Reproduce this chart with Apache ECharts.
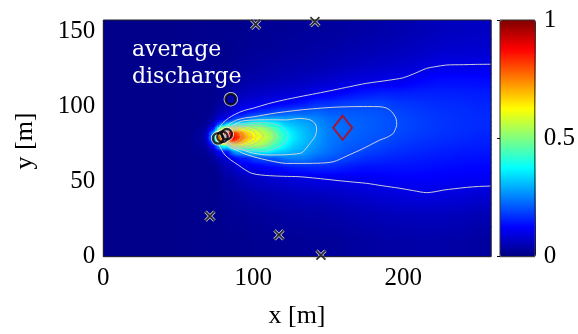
<!DOCTYPE html>
<html>
<head>
<meta charset="utf-8">
<script src="https://cdn.jsdelivr.net/npm/echarts@6/dist/echarts.min.js"></script>
<style>
  html, body { margin: 0; padding: 0; background: #ffffff; }
  #chart { width: 578px; height: 334px; }
</style>
</head>
<body>
<div id="chart"></div>
<script>
// Concentration field on a non-uniform grid (cell edges in metres)
const xEdges = [0, 25, 50, 65, 72, 76, 79, 82, 85, 88, 91, 94, 97, 100, 104, 108, 113, 118, 124, 130, 138, 146, 156, 168, 180, 192, 204, 218, 232, 246, 258.5];
const yEdges = [0, 20, 35, 47, 56, 63, 68, 72, 75, 78, 81, 84, 87, 90, 94, 99, 105, 113, 122, 133, 145, 157.8];

// One array per grid column (x), values listed from y = 0 upwards
const fieldColumns = [
  [.01,.01,.01,.01,.01,.01,.01,.01,.01,.01,.01,.01,.01,.01,.01,.01,.01,.01,.01,.01,.01],
  [.01,.01,.01,.01,.01,.01,.01,.01,.01,.01,.01,.01,.01,.01,.01,.01,.01,.01,.01,.01,.01],
  [.012,.012,.012,.012,.012,.012,.012,.012,.012,.012,.012,.012,.012,.012,.012,.012,.012,.012,.012,.012,.012],
  [.015,.015,.015,.015,.015,.015,.02,.03,.04,.045,.04,.03,.02,.015,.015,.015,.015,.015,.015,.015,.015],
  [.015,.015,.015,.015,.015,.03,.06,.12,.25,.35,.3,.15,.07,.04,.025,.015,.015,.015,.015,.015,.015],
  [.015,.015,.015,.015,.025,.05,.12,.3,.6,.75,.7,.45,.2,.09,.05,.03,.02,.015,.015,.015,.015],
  [.015,.015,.02,.03,.05,.08,.15,.4,.8,.97,.9,.6,.25,.1,.06,.035,.025,.02,.015,.015,.015],
  [.015,.02,.025,.035,.055,.085,.15,.35,.7,.92,.9,.65,.35,.12,.07,.04,.028,.02,.015,.015,.015],
  [.015,.02,.025,.035,.06,.11,.25,.52,.8,.88,.84,.6,.33,.17,.09,.055,.035,.025,.02,.015,.015],
  [.015,.02,.03,.045,.085,.14,.3,.55,.77,.84,.8,.62,.39,.2,.115,.075,.045,.03,.022,.018,.015],
  [.015,.02,.03,.05,.095,.15,.29,.53,.71,.77,.74,.59,.39,.2,.125,.085,.055,.035,.025,.018,.015],
  [.015,.022,.033,.055,.098,.155,.32,.53,.66,.71,.68,.58,.4,.22,.135,.09,.058,.038,.027,.02,.016],
  [.016,.024,.038,.06,.105,.17,.35,.52,.61,.67,.64,.555,.43,.255,.145,.095,.062,.041,.03,.022,.017],
  [.017,.025,.04,.065,.11,.19,.36,.52,.58,.63,.6,.54,.44,.27,.155,.098,.065,.043,.031,.023,.018],
  [.018,.026,.043,.07,.115,.2,.37,.51,.56,.59,.57,.53,.44,.29,.165,.105,.07,.046,.033,.024,.019],
  [.019,.028,.046,.075,.125,.205,.37,.47,.52,.55,.535,.49,.41,.29,.175,.11,.073,.049,.035,.025,.02],
  [.02,.03,.049,.08,.13,.215,.34,.42,.46,.49,.475,.44,.38,.29,.19,.115,.077,.052,.037,.027,.021],
  [.021,.032,.052,.083,.14,.24,.32,.37,.4,.41,.4,.37,.33,.28,.2,.125,.08,.055,.039,.029,.022],
  [.022,.034,.055,.088,.15,.25,.3,.325,.345,.355,.35,.335,.31,.285,.21,.135,.085,.058,.041,.03,.023],
  [.023,.035,.058,.093,.155,.25,.285,.3,.31,.315,.313,.305,.292,.27,.215,.145,.09,.062,.043,.032,.025],
  [.024,.037,.06,.098,.16,.225,.255,.268,.275,.28,.28,.276,.268,.255,.225,.168,.105,.068,.047,.035,.027],
  [.025,.039,.062,.099,.16,.21,.232,.24,.243,.245,.245,.244,.24,.233,.212,.17,.115,.075,.05,.037,.029],
  [.028,.045,.07,.102,.15,.19,.207,.215,.22,.225,.228,.228,.226,.222,.21,.185,.13,.085,.058,.042,.033],
  [.032,.05,.077,.108,.14,.17,.19,.202,.208,.212,.215,.218,.218,.216,.208,.19,.145,.092,.065,.047,.037],
  [.035,.055,.083,.113,.14,.162,.178,.188,.196,.201,.205,.207,.208,.207,.203,.19,.155,.1,.07,.052,.042],
  [.038,.058,.09,.118,.14,.155,.167,.175,.182,.188,.193,.196,.197,.195,.19,.178,.152,.105,.074,.056,.046],
  [.04,.06,.095,.12,.138,.15,.16,.167,.173,.178,.182,.185,.185,.184,.18,.172,.155,.125,.085,.064,.052],
  [.04,.06,.093,.118,.133,.145,.153,.16,.165,.17,.173,.175,.175,.175,.172,.166,.155,.135,.099,.073,.06],
  [.036,.057,.088,.115,.13,.14,.148,.154,.16,.164,.167,.17,.17,.17,.168,.163,.153,.135,.1,.076,.064],
  [.03,.052,.082,.112,.127,.137,.145,.15,.155,.158,.161,.164,.165,.165,.163,.158,.15,.133,.1,.077,.066]
];

// Iso-lines of the field
const contourOuter = [[258.5,128.3],[248,128.2],[240,128],[228.9,127.8],[221,126.6],[215.6,125.6],[210,123.2],[206.7,121.8],[200,119.3],[190,117.6],[175.6,115.6],[164,113.3],[153.5,111.1],[142,108.8],[131.1,106.7],[120,104.4],[110,102],[100,99],[94,97.5],[88,95],[83.3,92.2],[79.5,89],[77,85],[76,80],[77,75],[79,71],[81.1,67.8],[85,64.5],[90,61.1],[94,58.3],[98.9,55.6],[105,54.5],[111,54],[120,53.6],[131.1,53.3],[142,52.3],[153.3,51.1],[164,50],[175.6,48.9],[186,47.3],[197.8,45.6],[207,44],[215.6,42.7],[221,43.3],[226.7,44.4],[234,45.3],[242.2,46.2],[250,46.8],[258.5,47.1]];
const contour2 = [[84,88.5],[88.9,91.1],[95,92.6],[100,93.2],[106.7,94.4],[115,95.8],[122,96.7],[131.1,97.8],[142,98.8],[153.3,99.6],[165,100],[176,100.1],[184.4,100],[189,99],[192.2,96.7],[195.2,92],[195.6,88],[194.5,84.5],[193.3,82.2],[189,79.5],[184.4,77.8],[178,74.5],[171.1,71.1],[162,67],[153.3,63.3],[142,62.3],[131.1,62.2],[122.2,62.2],[111,64],[100,66.7],[93,69],[88.9,71.1],[84,73],[81,76],[80,80],[81,85],[84,88.5]];
const contour3 = [[85,87],[90,89.5],[93.3,90.6],[100,91.1],[110,91.3],[122,91.2],[131.1,92.2],[137,91.5],[140,90],[142,87],[142.2,84.4],[141,80],[137.8,75.6],[135,72],[133.3,70],[131.1,68.9],[122,68],[111,67.8],[100,69],[93.3,71.1],[87,73],[82,76],[81,80],[82,84],[85,87]];
const contour4 = [[84,86.5],[90,88.3],[100,89.3],[108,89.4],[115,88.3],[120,86],[123.3,81],[121,76],[115,72.3],[108,70.3],[100,70.5],[90,71.7],[84,73.5],[81,80],[84,86.5]];
const contour5 = [[84,86.3],[92,87.6],[100,87.8],[107,86.8],[112,84.5],[114.4,80.5],[112,76.5],[107,73.8],[100,72.5],[92,72.5],[84,74],[81.5,80],[84,86.3]];
const contour6 = [[84,86],[92,87],[99,86.3],[104,84],[106.7,80.5],[104,77],[99,74.5],[92,73.3],[84,74.3],[81.5,80],[84,86]];
const contour7 = [[84,85.5],[91,86.3],[97,85],[100.5,83],[102,80.3],[100.5,77.5],[97,75.5],[91,74.2],[84,74.8],[82,80],[84,85.5]];
const contour8 = [[84,85],[90,85.5],[95,84.3],[98,82.5],[99,80.3],[98,78],[95,76.2],[90,75],[84,75.3],[82,80],[84,85]];
const contour9 = [[84,84.5],[89,84.8],[93,83.5],[95,82],[95.6,80.3],[95,78.5],[93,77],[89,75.7],[84,75.8],[82.5,80],[84,84.5]];
const contour10 = [[84,84],[88,84],[90.5,82.8],[92,80.3],[90.5,77.8],[88,76.5],[84,76.3],[82.5,80],[84,84]];
const contours = [contourOuter, contour2, contour3, contour4, contour5, contour6, contour7, contour8, contour9, contour10];

// Point locations (m)
const sourceCircles = [[76.6, 78.9], [79.5, 80], [82.3, 81.6]];
const averageDischarge = [[85, 105]];
const crossPoints = [[101.6, 154.9], [141.1, 156.7], [71.1, 27.1], [117.1, 14.5], [145.1, 1.1]];
const diamondPoint = [[159.6, 86]];

// Axis ticks
const xTicks = [0, 100, 200];
const yTicks = [0, 50, 100, 150];
const colorTicks = [0, 0.5, 1];

const xMax = 258.5, yMax = 157.8;

// jet colour map: evenly spaced anchors over [0, 1]
const jet = ['#000080', '#0000ff', '#0080ff', '#00ffff', '#80ff80', '#ffff00', '#ff8000', '#ff0000', '#800000'];
const jetRGB = jet.map(function (h) {
  return [parseInt(h.slice(1, 3), 16), parseInt(h.slice(3, 5), 16), parseInt(h.slice(5, 7), 16)];
});
function jetColor(v) {
  v = Math.max(0, Math.min(1, v));
  const t = v * (jetRGB.length - 1);
  const k = Math.min(jetRGB.length - 2, Math.floor(t));
  const f = t - k;
  const a = jetRGB[k], b = jetRGB[k + 1];
  return 'rgb(' + Math.round(a[0] + (b[0] - a[0]) * f) + ',' +
    Math.round(a[1] + (b[1] - a[1]) * f) + ',' + Math.round(a[2] + (b[2] - a[2]) * f) + ')';
}

// cell centres, used for smooth (interpolated) shading of the cells
const xCenters = xEdges.slice(0, -1).map(function (e, j) { return (e + xEdges[j + 1]) / 2; });
const yCenters = yEdges.slice(0, -1).map(function (e, i) { return (e + yEdges[i + 1]) / 2; });
function bracket(centers, v) {
  if (v <= centers[0]) return [0, 0, 0];
  const n = centers.length;
  if (v >= centers[n - 1]) return [n - 1, n - 1, 0];
  let k = 0;
  while (centers[k + 1] < v) k++;
  return [k, k + 1, (v - centers[k]) / (centers[k + 1] - centers[k])];
}
function shadeValue(x, y) {
  const bx = bracket(xCenters, x), by = bracket(yCenters, y);
  const c0 = fieldColumns[bx[0]], c1 = fieldColumns[bx[1]];
  const lo = c0[by[0]] * (1 - bx[2]) + c1[by[0]] * bx[2];
  const hi = c0[by[1]] * (1 - bx[2]) + c1[by[1]] * bx[2];
  return lo * (1 - by[2]) + hi * by[2];
}

const cells = [];
for (let j = 0; j < fieldColumns.length; j++) {
  for (let i = 0; i < fieldColumns[j].length; i++) {
    cells.push([xEdges[j], xEdges[j + 1], yEdges[i], yEdges[i + 1], fieldColumns[j][i]]);
  }
}

const tickFont = { fontFamily: 'Liberation Serif', fontSize: 25, color: '#000' };

const series = [];
series.push({
  type: 'custom',
  xAxisIndex: 0, yAxisIndex: 0,
  data: cells,
  encode: { x: [0, 1], y: [2, 3] },
  clip: true,
  silent: true,
  z: 1,
  renderItem: function (params, api) {
    const x0 = api.value(0), x1 = api.value(1), y0 = api.value(2), y1 = api.value(3);
    const pBL = api.coord([x0, y0]);
    const pTR = api.coord([x1, y1]);
    const wPx = pTR[0] - pBL[0];
    const n = Math.max(1, Math.ceil(wPx / 2.5));
    const children = [];
    const steps = 6;
    for (let k = 0; k < n; k++) {
      const xs = x0 + (k + 0.5) / n * (x1 - x0);
      const stops = [];
      for (let s = 0; s <= steps; s++) {
        const ys = y1 - s / steps * (y1 - y0);
        stops.push({ offset: s / steps, color: jetColor(shadeValue(xs, ys)) });
      }
      const left = pBL[0] + k / n * wPx;
      children.push({
        type: 'rect',
        shape: { x: left - 0.5, y: pTR[1] - 0.5, width: wPx / n + 1, height: pBL[1] - pTR[1] + 1 },
        style: { fill: { type: 'linear', x: 0, y: 0, x2: 0, y2: 1, colorStops: stops } }
      });
    }
    return { type: 'group', children: children };
  }
});
contours.forEach(function (c, idx) {
  series.push({
    type: 'line', xAxisIndex: 0, yAxisIndex: 0, data: c,
    showSymbol: false, symbol: 'none', smooth: 0.3, silent: true, z: 3,
    lineStyle: { color: idx < 3 ? 'rgba(215,215,215,0.95)' : 'rgba(190,190,190,0.7)', width: 1 }
  });
});
// crosses: white halo then black stroke
const crossPath = 'path://M0,0L10,10M10,0L0,10';
series.push({
  type: 'scatter', data: crossPoints, symbol: crossPath, symbolSize: 9, clip: false, silent: true, z: 4,
  itemStyle: { color: 'transparent', borderColor: '#ffffff', borderWidth: 3.3 }
});
series.push({
  type: 'scatter', data: crossPoints, symbol: crossPath, symbolSize: 9, clip: false, silent: true, z: 4,
  itemStyle: { color: 'transparent', borderColor: '#000000', borderWidth: 1.8 }
});
[sourceCircles, averageDischarge].forEach(function (pts) {
  series.push({
    type: 'scatter', data: pts, symbol: 'circle', symbolSize: 12.5, clip: false, silent: true, z: 5,
    itemStyle: { color: 'transparent', borderColor: '#ffffff', borderWidth: 2 }
  });
  series.push({
    type: 'scatter', data: pts, symbol: 'circle', symbolSize: 10.5, clip: false, silent: true, z: 5,
    itemStyle: { color: 'transparent', borderColor: '#000000', borderWidth: 2.4 }
  });
});
series.push({
  type: 'scatter', data: diamondPoint, symbol: 'diamond', symbolSize: [19, 24], clip: false, silent: true, z: 5,
  itemStyle: { color: 'transparent', borderColor: '#cc0000', borderWidth: 2 }
});

const chart = echarts.init(document.getElementById('chart'), null, { renderer: 'canvas' });
chart.setOption({
  animation: false,
  backgroundColor: '#ffffff',
  grid: [
    { left: 103.3, top: 20, width: 387.7, height: 236.7, show: true, z: 10,
      backgroundColor: 'transparent', borderColor: '#222', borderWidth: 1 },
    { left: 500, top: 20, width: 36, height: 236.7, show: true, z: 10,
      backgroundColor: 'transparent', borderColor: '#333', borderWidth: 1 }
  ],
  xAxis: [
    { gridIndex: 0, type: 'value', min: 0, max: xMax, interval: 100,
      axisLine: { show: false }, axisTick: { show: false }, splitLine: { show: false },
      axisLabel: Object.assign({ margin: 9, showMaxLabel: false,
        formatter: function (v) { return xTicks.indexOf(v) >= 0 ? String(v) : ''; } }, tickFont) },
    { gridIndex: 1, type: 'value', min: 0, max: 1, show: false }
  ],
  yAxis: [
    { gridIndex: 0, type: 'value', min: 0, max: yMax, interval: 50,
      axisLine: { show: false }, axisTick: { show: false }, splitLine: { show: false },
      axisLabel: Object.assign({ margin: 8, showMaxLabel: false,
        formatter: function (v) { return yTicks.indexOf(v) >= 0 ? String(v) : ''; } }, tickFont) },
    { gridIndex: 1, type: 'value', min: 0, max: 1, interval: 0.5, position: 'right', z: 12,
      axisLine: { show: false }, splitLine: { show: false },
      axisTick: { show: true, inside: true, length: 3, lineStyle: { color: '#000' } },
      axisLabel: Object.assign({ margin: 9,
        formatter: function (v) { return colorTicks.indexOf(v) >= 0 ? String(v) : ''; } }, tickFont) }
  ],
  visualMap: {
    type: 'continuous', min: 0, max: 1, seriesIndex: 0, dimension: 4,
    inRange: { color: jet },
    left: 500, top: 20, itemWidth: 36, itemHeight: 236.7, padding: 0,
    calculable: false, hoverLink: false, text: null, orient: 'vertical'
  },
  graphic: [
    { type: 'text', x: 132, y: 50, z: 100, silent: true,
      style: { text: 'average', fill: '#ffffff', font: '22px "DejaVu Serif"', align: 'left', verticalAlign: 'middle' } },
    { type: 'text', x: 132, y: 77, z: 100, silent: true,
      style: { text: 'discharge', fill: '#ffffff', font: '22px "DejaVu Serif"', align: 'left', verticalAlign: 'middle' } },
    { type: 'text', x: 297, y: 316, z: 100, silent: true,
      style: { text: 'x [m]', fill: '#000', font: '26px "Liberation Serif"', align: 'center', verticalAlign: 'middle' } },
    { type: 'text', x: 25, y: 141, rotation: Math.PI / 2, z: 100, silent: true,
      style: { text: 'y [m]', fill: '#000', font: '26px "Liberation Serif"', align: 'center', verticalAlign: 'middle' } }
  ],
  series: series
});
</script>
</body>
</html>
